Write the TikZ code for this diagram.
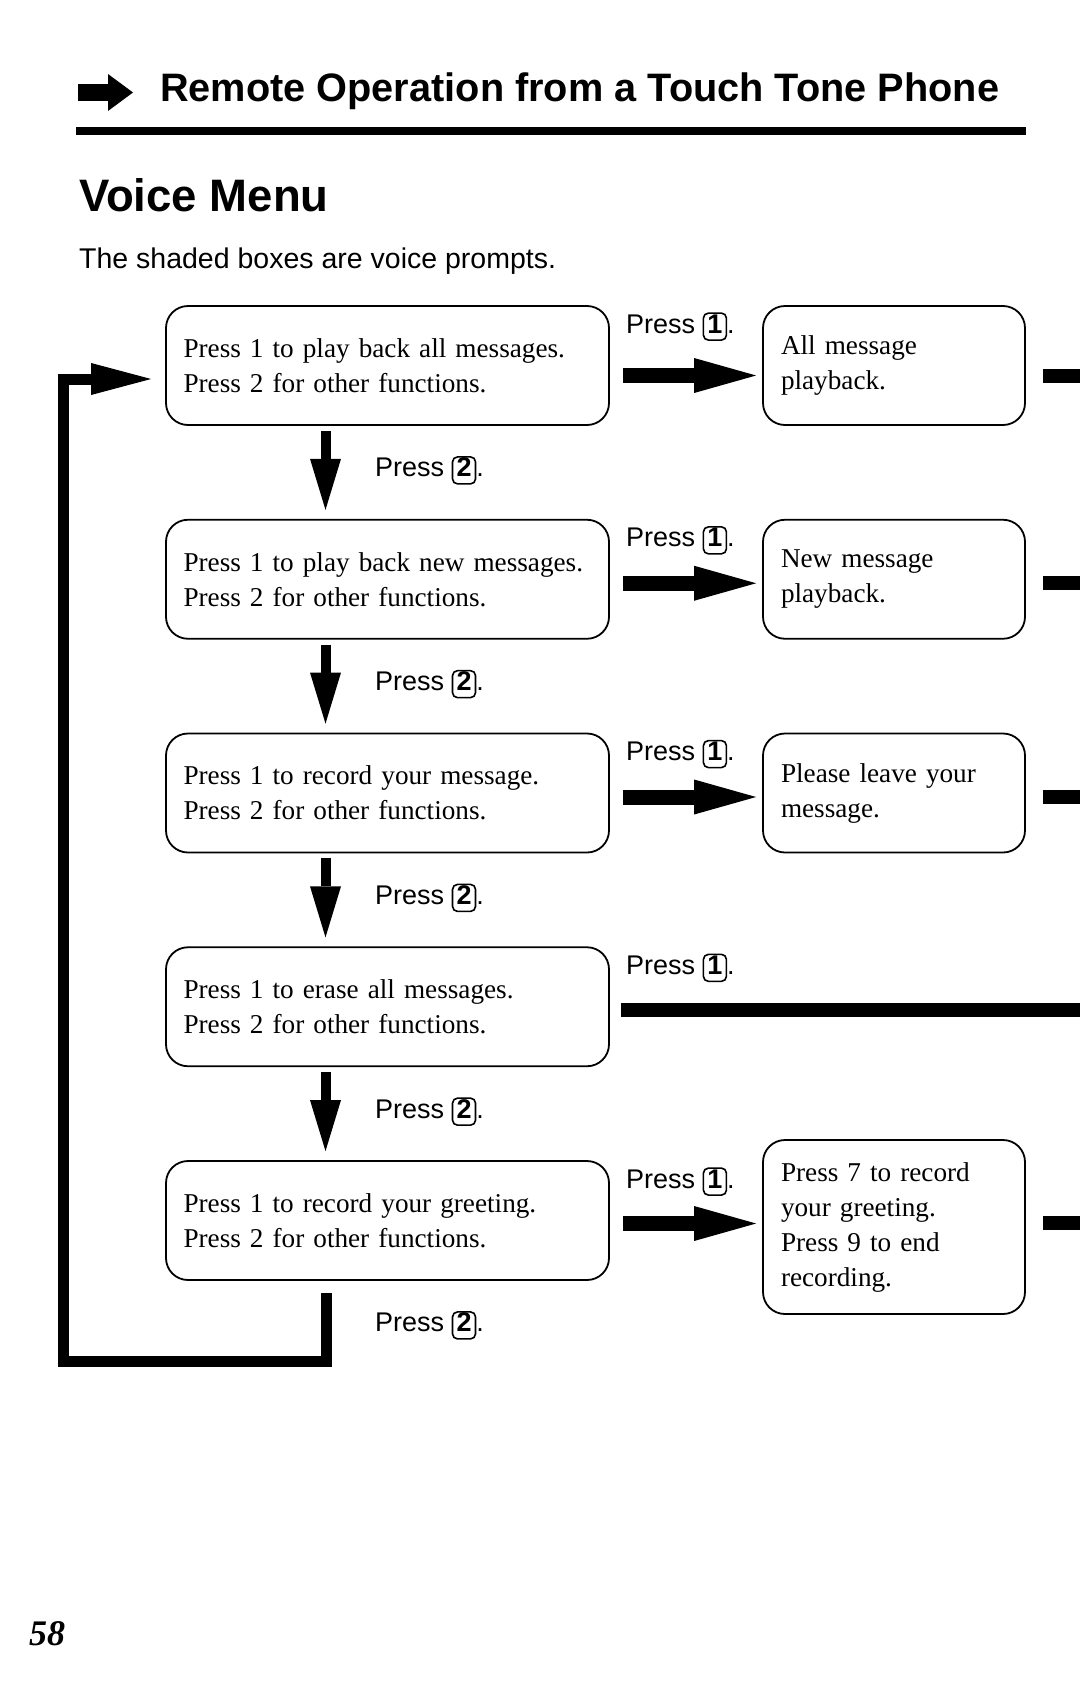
\documentclass[tikz,border=0pt]{standalone}
\usepackage{fontspec}
\setmainfont{Liberation Serif}
\setsansfont{Liberation Sans}
\usetikzlibrary{arrows.meta}

\newcommand{\keycap}[1]{\tikz[baseline=(kc.base)]\node[draw,line width=1.6pt,rounded corners=5pt,inner xsep=4pt,inner ysep=2pt,text height=18pt,text depth=5pt,font=\bfseries] (kc) {#1};}

\begin{document}
\begin{tikzpicture}[x=1pt,y=-1pt,
	menubox/.style={draw, line width=1.8pt, rounded corners=22pt, minimum width=443pt, minimum height=119pt, text width=408pt, inner sep=0pt, align=left, font=\fontsize{27.2}{35}\selectfont},
	promptbox/.style={menubox, minimum width=262pt, text width=226pt},
	presslabel/.style={anchor=base west, inner sep=0pt, font=\sffamily\fontsize{27}{32}\selectfont},
	bigarrow/.style={line width=15pt, -{Triangle[length=62pt,width=35pt,line width=0pt]}},
	downarrow/.style={line width=10pt, -{Triangle[length=51pt,width=31pt,line width=0pt]}},
	looparrow/.style={line width=11pt, -{Triangle[length=60pt,width=32pt,line width=0pt]}},
	stub/.style={line width=14pt}]
	\def\rowsep{213.75}

	\useasboundingbox (0,0) rectangle (1080,1697);
	\fill[white] (0,0) rectangle (1080,1697);

	% header
	\fill (78,84) rectangle (109,101);
	\fill (108,74) -- (133,92.5) -- (108,111) -- cycle;
	\node[anchor=base west, inner sep=0pt, font=\sffamily\bfseries\fontsize{39.7}{44}\selectfont] (title) at (160,101) {Remote Operation from a Touch Tone Phone};
	\draw[line width=8pt] (76,131) -- (1026,131);
	\node[anchor=base west, inner sep=0pt, font=\sffamily\bfseries\fontsize{45.5}{50}\selectfont] (voicemenu) at (79,211) {Voice Menu};
	\node[anchor=base west, inner sep=0pt, font=\sffamily\fontsize{28.5}{34}\selectfont] (note) at (79,268) {The shaded boxes are voice prompts.};

	\coordinate (rightedge) at (1080,0);
	\coordinate (loopcorner) at (63.5,379);

	% menu column
	\node[menubox] (menu1) at (387.5,365.5) {Press 1 to play back all messages.\\Press 2 for other functions.};
	\node[menubox] (menu2) at (387.5,365.5+\rowsep) {Press 1 to play back new messages.\\Press 2 for other functions.};
	\node[menubox] (menu3) at (387.5,365.5+2*\rowsep) {Press 1 to record your message.\\Press 2 for other functions.};
	\node[menubox] (menu4) at (387.5,365.5+3*\rowsep) {Press 1 to erase all messages.\\Press 2 for other functions.};
	\node[menubox] (menu5) at (387.5,365.5+4*\rowsep) {Press 1 to record your greeting.\\Press 2 for other functions.};

	% prompts
	\node[promptbox] (prompt1) at (894,365.5) {All message\\playback.};
	\node[promptbox] (prompt2) at (894,365.5+\rowsep) {New message\\playback.};
	\node[promptbox] (prompt3) at (894,365.5+2*\rowsep) {Please leave your\\message.};
	\node[promptbox, minimum height=174pt] (prompt5) at (894,1227) {Press 7 to record\\your greeting.\\Press 9 to end\\recording.};

	% press 1
	\node[presslabel] (one1) at ([shift={(16pt,-28pt)}]menu1.north east) {Press \keycap{1}.};
	\node[presslabel] (one2) at ([shift={(16pt,-28pt)}]menu2.north east) {Press \keycap{1}.};
	\node[presslabel] (one3) at ([shift={(16pt,-28pt)}]menu3.north east) {Press \keycap{1}.};
	\node[presslabel] (one4) at ([shift={(16pt,-28pt)}]menu4.north east) {Press \keycap{1}.};
	\node[presslabel] (one5) at ([shift={(16pt,-28pt)}]menu5.north east) {Press \keycap{1}.};

	% press 2
	\node[presslabel] (two1) at ([shift={(-12.5pt,-51pt)}]menu1.south) {Press \keycap{2}.};
	\node[presslabel] (two2) at ([shift={(-12.5pt,-51pt)}]menu2.south) {Press \keycap{2}.};
	\node[presslabel] (two3) at ([shift={(-12.5pt,-51pt)}]menu3.south) {Press \keycap{2}.};
	\node[presslabel] (two4) at ([shift={(-12.5pt,-51pt)}]menu4.south) {Press \keycap{2}.};
	\node[presslabel] (two5) at ([shift={(-12.5pt,-51pt)}]menu5.south) {Press \keycap{2}.};

	\draw[downarrow] ([shift={(-62pt,-5pt)}]menu1.south) -- ([shift={(-62pt,9pt)}]menu2.north);
	\draw[downarrow] ([shift={(-62pt,-5pt)}]menu2.south) -- ([shift={(-62pt,9pt)}]menu3.north);
	\draw[downarrow] ([shift={(-62pt,-5pt)}]menu3.south) -- ([shift={(-62pt,9pt)}]menu4.north);
	\draw[downarrow] ([shift={(-62pt,-5pt)}]menu4.south) -- ([shift={(-62pt,9pt)}]menu5.north);

	% back to the top
	\draw[looparrow] ([shift={(-61pt,-12pt)}]menu5.south) -- ++(0,69) -| (loopcorner) -- ([shift={(-14pt,-13.5pt)}]menu1.west);

	\draw[bigarrow] ([shift={(13pt,-10pt)}]menu1.east) -- ([shift={(-6pt,-10pt)}]prompt1.west);
	\draw[bigarrow] ([shift={(13pt,-4pt)}]menu2.east) -- ([shift={(-6pt,-4pt)}]prompt2.west);
	\draw[bigarrow] ([shift={(13pt,-4pt)}]menu3.east) -- ([shift={(-6pt,-4pt)}]prompt3.west);
	\draw[stub] ([shift={(11pt,-3pt)}]menu4.east) coordinate (s4) -- (s4 -| rightedge);
	\draw[bigarrow, shorten >=6pt] ([shift={(13pt,-3pt)}]menu5.east) coordinate (a5) -- (a5 -| prompt5.west);

	\draw[stub] ([shift={(17pt,-10pt)}]prompt1.east) coordinate (s1) -- (s1 -| rightedge);
	\draw[stub] ([shift={(17pt,-4pt)}]prompt2.east) coordinate (s2) -- (s2 -| rightedge);
	\draw[stub] ([shift={(17pt,-4pt)}]prompt3.east) coordinate (s3) -- (s3 -| rightedge);
	\draw[stub] ([shift={(17pt,4pt)}]prompt5.east) coordinate (s5) -- (s5 -| rightedge);

	\node[anchor=base west, inner sep=0pt, font=\bfseries\itshape\fontsize{36}{40}\selectfont] (pagenum) at (29,1645) {58};
\end{tikzpicture}
\end{document}
